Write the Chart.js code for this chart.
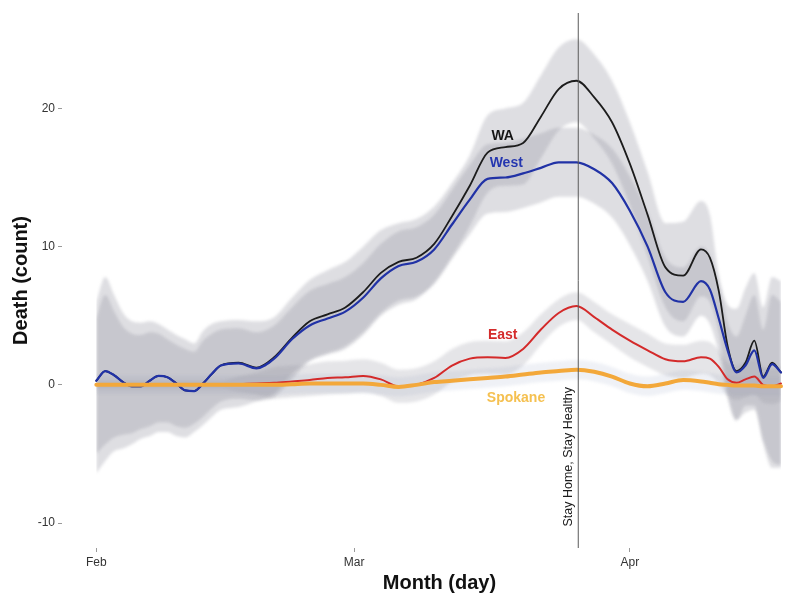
<!DOCTYPE html>
<html>
<head>
<meta charset="utf-8">
<script src="https://cdn.jsdelivr.net/npm/chart.js@4.4.1/dist/chart.umd.min.js"></script>
<style>
  html, body { margin: 0; padding: 0; background: #fff; }
  #wrap { width: 793px; height: 602px; position: relative; }
</style>
</head>
<body>
<div id="wrap"><canvas id="chart"></canvas></div>
<script>
// Days since 1 Feb 2020
const days = [0,1,2,3,4,5,6,7,8,9,10,11,12,13,14,
  16,18,20,22,24,26,28,30,32,34,36,38,40,42,44,46,48,50,52,54,56,58,60,62,64,66,68,
  69,70,71,72,73,74,75,76,77];

const tickDays = [0, 29, 60];
const tickLabels = ['Feb', 'Mar', 'Apr'];
const yTicks = [-10, 0, 10, 20];

// Smoothed daily deaths
const wa = [0.3,1.0,0.7,0.2,-0.1,-0.1,0.3,0.65,0.55,0.1,-0.4,-0.45,0.1,0.8,1.4,
  1.6,1.25,2.0,3.4,4.6,5.1,5.6,6.7,8.1,8.9,9.2,10.2,12.2,14.4,16.8,17.2,17.5,19.4,21.4,22.0,20.8,19.0,16.0,12.3,8.5,7.9,9.8,
  9.2,6.8,2.8,1.0,1.6,3.2,0.6,1.6,0.9];
const west = [0.3,1.0,0.7,0.2,-0.1,-0.1,0.3,0.65,0.55,0.1,-0.4,-0.45,0.1,0.8,1.4,
  1.55,1.2,1.9,3.3,4.3,4.8,5.3,6.3,7.7,8.6,8.9,9.8,11.6,13.4,14.9,15.0,15.3,15.7,16.1,16.1,15.6,14.6,12.6,10.0,6.7,6.0,7.5,
  6.9,4.8,2.5,0.9,1.4,2.5,0.5,1.5,0.9];
const east = [0,0,0,0,0,0,0,0,0,0,0,0,0,0,0,
  0.05,0.1,0.15,0.25,0.35,0.5,0.55,0.65,0.4,-0.1,0.0,0.5,1.4,1.9,2.0,1.95,2.6,4.0,5.2,5.7,4.9,4.0,3.2,2.5,1.85,1.7,2.0,
  1.9,1.3,0.4,0.15,0.4,0.6,0.0,-0.1,0.1];
const spokane = [0,0,0,0,0,0,0,0,0,0,0,0,0,0,0,
  0,0,0,0.05,0.1,0.1,0.1,0.1,0,-0.15,0,0.2,0.3,0.4,0.5,0.6,0.75,0.9,1.0,1.1,0.95,0.6,0.1,-0.1,0.1,0.35,0.25,
  0.15,0.05,0,-0.05,-0.05,-0.05,-0.1,-0.1,-0.1];

// Confidence ribbons
const waHigh = [6.0,7.8,6.5,5.2,4.6,4.5,4.6,4.4,4.0,3.6,3.3,3.0,3.9,4.4,4.6,
  4.7,4.6,4.9,6.3,7.6,8.3,8.9,10.0,11.2,11.7,12.0,12.9,14.6,16.6,19.5,20.0,20.4,22.4,24.4,25.0,23.9,22.0,19.0,15.4,11.7,11.8,13.3,
  12.3,8.0,5.8,5.5,7.0,8.1,5.6,7.8,7.5];
const waLow = [-6.4,-5.5,-4.8,-4.6,-4.3,-3.9,-3.7,-3.4,-3.4,-3.7,-3.8,-3.4,-2.9,-2.3,-1.8,
  -1.6,-1.2,-0.9,0.4,1.7,2.2,2.6,3.6,5.0,5.8,6.2,7.4,9.3,11.5,13.9,14.4,14.5,16.4,18.4,19.0,17.8,16.0,13.0,9.3,5.6,4.6,6.4,
  6.0,3.8,-0.5,-2.5,-2.0,-1.8,-4.0,-5.5,-5.8];
const westHigh = [4.8,6.5,5.3,4.2,3.7,3.6,3.8,3.7,3.3,2.9,2.6,2.4,3.2,3.7,4.0,
  4.1,3.8,4.3,5.6,6.8,7.3,7.8,8.8,10.2,11.1,11.4,12.3,14.1,15.9,17.4,17.5,17.8,18.2,18.6,18.6,18.1,17.1,15.1,12.5,9.2,8.5,10.0,
  9.4,7.3,4.5,3.5,5.0,6.5,4.0,6.5,6.0];
const westLow = [-5.0,-4.3,-3.8,-3.6,-3.5,-3.2,-3.0,-2.7,-2.7,-3.0,-3.1,-2.8,-2.3,-1.7,-1.2,
  -1.0,-1.1,-0.6,0.8,1.8,2.3,2.8,3.8,5.2,6.1,6.4,7.3,9.1,10.9,12.4,12.5,12.8,13.2,13.6,13.6,13.1,12.1,10.1,7.5,4.2,3.5,5.0,
  4.4,2.3,-1.0,-2.6,-1.5,-1.5,-4.2,-6.0,-6.0];
const eastHigh = [0.3,0.3,0.3,0.3,0.3,0.3,0.3,0.3,0.3,0.3,0.3,0.3,0.3,0.3,0.3,
  0.6,0.9,1.3,1.4,1.5,1.7,1.75,1.85,1.6,1.1,1.2,1.7,2.6,3.1,3.2,3.15,3.8,5.1,6.2,6.7,6.0,5.1,4.4,3.7,3.0,2.9,3.2,
  3.1,2.5,1.6,1.4,1.7,1.9,1.3,1.2,1.4];
const eastLow = [-0.3,-0.3,-0.3,-0.3,-0.3,-0.3,-0.3,-0.3,-0.3,-0.3,-0.3,-0.3,-0.3,-0.3,-0.3,
  -0.5,-0.7,-1.0,-0.9,-0.8,-0.7,-0.65,-0.55,-0.8,-1.3,-1.2,-0.7,0.2,0.7,0.8,0.75,1.4,2.9,4.2,4.7,3.8,2.9,2.0,1.3,0.7,0.5,0.8,
  0.7,0.1,-0.8,-1.1,-0.9,-0.7,-1.3,-1.4,-1.2];
const spokaneHigh = [0.7,0.7,0.7,0.7,0.7,0.7,0.7,0.7,0.7,0.7,0.7,0.7,0.7,0.7,0.7,
  0.7,0.7,0.7,0.75,0.8,0.8,0.8,0.8,0.7,0.55,0.7,0.9,1.0,1.1,1.2,1.3,1.45,1.6,1.7,1.8,1.65,1.3,0.8,0.6,0.8,1.05,0.95,
  0.85,0.75,0.7,0.65,0.65,0.65,0.6,0.6,0.6];
const spokaneLow = [-0.7,-0.7,-0.7,-0.7,-0.7,-0.7,-0.7,-0.7,-0.7,-0.7,-0.7,-0.7,-0.7,-0.7,-0.7,
  -0.7,-0.7,-0.7,-0.65,-0.6,-0.6,-0.6,-0.6,-0.7,-0.85,-0.7,-0.5,-0.4,-0.3,-0.2,-0.1,0.05,0.2,0.3,0.4,0.25,-0.1,-0.6,-0.8,-0.6,-0.35,-0.45,
  -0.55,-0.65,-0.7,-0.75,-0.75,-0.75,-0.8,-0.8,-0.8];

// Order date (day index) and its caption
const orderDay = 54.2;
const orderLabel = 'Stay Home, Stay Healthy';

const FONT = "'Liberation Sans', Arial, Helvetica, sans-serif";

const pts = vals => days.map((d, i) => ({ x: d, y: vals[i] }));

const series = [
  { name: 'WA',      vals: wa,      color: '#1c1c1c', width: 1.8, order: 3 },
  { name: 'West',    vals: west,    color: '#2132a6', width: 2.2, order: 2 },
  { name: 'East',    vals: east,    color: '#d42a2a', width: 2.0, order: 1 },
  { name: 'Spokane', vals: spokane, color: '#f3a83a', width: 4.0, order: 0 }
];

const bands = [
  { lo: waLow,      hi: waHigh,      fill: 'rgba(148,148,160,0.31)' },
  { lo: westLow,    hi: westHigh,    fill: 'rgba(148,148,160,0.31)' },
  { lo: eastLow,    hi: eastHigh,    fill: 'rgba(150,150,162,0.25)' },
  { lo: spokaneLow, hi: spokaneHigh, fill: 'rgba(165,180,205,0.18)' }
];

// Label anchors: [day, value]
const seriesLabels = [
  { text: 'WA',      at: [45.7, 18.0],  color: '#151515' },
  { text: 'West',    at: [46.1, 16.05], color: '#2436b0' },
  { text: 'East',    at: [45.7, 3.6],   color: '#d42b2b' },
  { text: 'Spokane', at: [47.2, -0.95], color: '#f5c050' }
];

const datasets = [];
bands.forEach(b => {
  datasets.push({ data: pts(b.lo), borderWidth: 0, pointRadius: 0, fill: false,
    cubicInterpolationMode: 'monotone', order: 10, isBand: true });
  datasets.push({ data: pts(b.hi), borderWidth: 0, pointRadius: 0, fill: '-1',
    backgroundColor: b.fill, cubicInterpolationMode: 'monotone', order: 10, isBand: true });
});
series.forEach(s => {
  datasets.push({ label: s.name, data: pts(s.vals), borderColor: s.color, borderWidth: s.width,
    pointRadius: 0, fill: false, cubicInterpolationMode: 'monotone', order: s.order,
    borderCapStyle: 'round', borderJoinStyle: 'round' });
});

// Soft edges on the ribbons (runs ahead of the filler so the fill picks it up)
const softBands = {
  id: 'softBands',
  beforeDatasetDraw(chart, args) {
    if (chart.data.datasets[args.index].isBand) {
      chart.ctx.save();
      chart.ctx.filter = 'blur(1.5px)';
    }
  },
  afterDatasetDraw(chart, args) {
    if (chart.data.datasets[args.index].isBand) chart.ctx.restore();
  }
};
if (Chart.Filler) {
  Chart.unregister(Chart.Filler);
  Chart.register(softBands, Chart.Filler);
} else {
  Chart.register(softBands);
}

const annotate = {
  id: 'annotate',
  afterDatasetsDraw(chart) {
    const { ctx, chartArea: a, scales: { x, y } } = chart;
    ctx.save();
    // order date marker
    const vx = x.getPixelForValue(orderDay);
    ctx.strokeStyle = '#5a5a5a';
    ctx.lineWidth = 1;
    ctx.beginPath();
    ctx.moveTo(vx, a.top);
    ctx.lineTo(vx, a.bottom);
    ctx.stroke();
    ctx.save();
    ctx.translate(vx - 10, y.getPixelForValue(-5.2));
    ctx.rotate(-Math.PI / 2);
    ctx.font = '12.5px ' + FONT;
    ctx.fillStyle = '#1a1a1a';
    ctx.textAlign = 'center';
    ctx.textBaseline = 'middle';
    ctx.fillText(orderLabel, 0, 0);
    ctx.restore();
    // series names
    ctx.font = 'bold 14px ' + FONT;
    ctx.textAlign = 'center';
    ctx.textBaseline = 'middle';
    seriesLabels.forEach(l => {
      ctx.fillStyle = l.color;
      ctx.fillText(l.text, x.getPixelForValue(l.at[0]), y.getPixelForValue(l.at[1]));
    });
    ctx.restore();
  },
  afterDraw(chart) {
    const { ctx, chartArea: a } = chart;
    ctx.save();
    ctx.fillStyle = '#111';
    ctx.font = 'bold 20px ' + FONT;
    ctx.textAlign = 'center';
    ctx.textBaseline = 'middle';
    ctx.fillText('Month (day)', (a.left + a.right) / 2 + 12, 583);
    ctx.translate(21, (a.top + a.bottom) / 2);
    ctx.rotate(-Math.PI / 2);
    ctx.fillText('Death (count)', 0, 0);
    ctx.restore();
  }
};

new Chart(document.getElementById('chart'), {
  type: 'line',
  data: { datasets },
  plugins: [annotate],
  options: {
    responsive: true,
    maintainAspectRatio: false,
    animation: false,
    layout: { padding: { top: 13, right: 0, bottom: 0, left: 0 } },
    plugins: { legend: { display: false }, tooltip: { enabled: false } },
    scales: {
      x: {
        type: 'linear',
        min: -3.86,
        max: 78.35,
        afterBuildTicks: s => { s.ticks = tickDays.map(v => ({ value: v })); },
        afterFit: s => { s.height = 54; },
        ticks: {
          callback: (v, i) => tickLabels[i],
          autoSkip: false, maxRotation: 0, padding: 3,
          color: '#333', font: { family: FONT, size: 12 }
        },
        grid: { drawOnChartArea: false, drawTicks: true, tickLength: 4, color: '#9a9a9a' },
        border: { display: false }
      },
      y: {
        min: -11.8,
        max: 26.9,
        afterBuildTicks: s => { s.ticks = yTicks.map(v => ({ value: v })); },
        afterFit: s => { s.width = 62; },
        ticks: {
          padding: 3,
          color: '#333', font: { family: FONT, size: 12 }
        },
        grid: { drawOnChartArea: false, drawTicks: true, tickLength: 4, color: '#9a9a9a' },
        border: { display: false }
      }
    }
  }
});
</script>
</body>
</html>
